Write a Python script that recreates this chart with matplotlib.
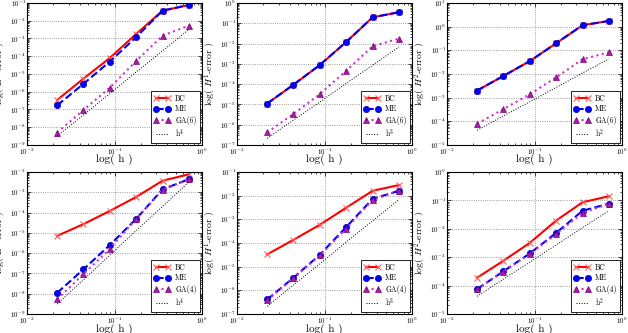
import matplotlib
matplotlib.use('Agg')
import matplotlib.pyplot as plt

plt.rcParams['font.family'] = 'serif'
plt.rcParams['font.serif'] = ['cmr10', 'DejaVu Serif']
plt.rcParams['mathtext.fontset'] = 'cm'
plt.rcParams['axes.formatter.use_mathtext'] = True
plt.rcParams['xtick.direction'] = 'in'
plt.rcParams['ytick.direction'] = 'in'

# mesh sizes
h = [0.0221, 0.0442, 0.0884, 0.177, 0.354, 0.707]

# top row: GA(6)
bc_top = {
    'L2': [3.4e-7, 5.5e-6, 8.0e-5, 1.8e-3, 3.7e-2, 7.7e-2],
    'H1': [1.1e-5, 9.4e-5, 8.8e-4, 1.2e-2, 0.196, 0.35],
    'H2': [2.0e-3, 8.3e-3, 3.5e-2, 0.20, 1.15, 1.74],
}
me_top = {
    'L2': [1.7e-7, 2.8e-6, 5.0e-5, 1.2e-3, 3.7e-2, 7.7e-2],
    'H1': [1.1e-5, 9.4e-5, 8.8e-4, 1.2e-2, 0.196, 0.35],
    'H2': [2.0e-3, 8.3e-3, 3.5e-2, 0.20, 1.15, 1.74],
}
ga_top = {
    'L2': [5.0e-9, 9.4e-8, 1.7e-6, 5.4e-5, 1.45e-3, 5.3e-3],
    'H1': [4.2e-7, 3.4e-6, 3.2e-5, 4.6e-4, 7.3e-3, 1.75e-2],
    'H2': [7.9e-5, 3.3e-4, 1.4e-3, 7.2e-3, 4.2e-2, 8.3e-2],
}

# bottom row: GA(4)
bc_bot = {
    'L2': [7.1e-6, 2.7e-5, 1.2e-4, 5.9e-4, 3.7e-3, 7.7e-3],
    'H1': [3.3e-5, 1.36e-4, 5.9e-4, 3.1e-3, 1.6e-2, 2.8e-2],
    'H2': [1.9e-4, 7.5e-4, 3.2e-3, 1.95e-2, 8.6e-2, 0.14],
}
me_bot = {
    'L2': [1.1e-8, 1.6e-7, 2.5e-6, 4.9e-5, 1.4e-3, 4.4e-3],
    'H1': [4.1e-7, 3.4e-6, 3.2e-5, 4.7e-4, 7.3e-3, 1.6e-2],
    'H2': [7.6e-5, 3.2e-4, 1.35e-3, 7.2e-3, 4.3e-2, 7.7e-2],
}
ga_bot = {
    'L2': [5.3e-9, 9.3e-8, 1.6e-6, 4.9e-5, 1.3e-3, 4.4e-3],
    'H1': [3.9e-7, 3.2e-6, 3.0e-5, 4.0e-4, 6.6e-3, 1.55e-2],
    'H2': [7.4e-5, 3.1e-4, 1.3e-3, 6.5e-3, 3.7e-2, 7.5e-2],
}

# reference slopes h^4, h^3, h^2
ref = {
    'L2': [3.1e-9, 4.9e-8, 7.9e-7, 1.3e-5, 2.0e-4, 3.2e-3],
    'H1': [2.1e-7, 1.7e-6, 1.3e-5, 1.1e-4, 8.5e-4, 6.8e-3],
    'H2': [4.2e-5, 1.7e-4, 6.7e-4, 2.7e-3, 1.1e-2, 4.3e-2],
}
ref_label = {'L2': 'h$^4$', 'H1': 'h$^3$', 'H2': 'h$^2$'}
ylabels = {'L2': 'log( $L^2$-error )', 'H1': 'log( $H^1$-error )',
           'H2': 'log( $H^2$-error )'}
ylims_top = {'L2': (1e-9, 1e-1), 'H1': (1e-7, 1e0), 'H2': (1e-5, 1e1)}
ylims_bot = {'L2': (1e-9, 1e-2), 'H1': (1e-7, 1e-1), 'H2': (1e-5, 1e0)}

norms = ['L2', 'H1', 'H2']
rows = [(bc_top, me_top, ga_top, ylims_top, 'GA(6)', -0.06),
        (bc_bot, me_bot, ga_bot, ylims_bot, 'GA(4)', -0.065)]

fig = plt.figure(figsize=(6.28, 3.33), dpi=100)
fig.patch.set_facecolor('white')

lefts = [27 / 628., 237 / 628., 447 / 628.]
bottoms = [(333 - 145) / 333., (333 - 314) / 333.]
w = 175 / 628.
ht = 142 / 333.

for r, (bc, me, ga, ylims, galab, xly) in enumerate(rows):
    for c, n in enumerate(norms):
        ax = fig.add_axes([lefts[c], bottoms[r], w, ht])
        ax.loglog(h, bc[n], color='red', lw=1.5, marker='x', ms=5,
                  mec='#ff6060', mew=0.8, label='BC')
        ax.loglog(h, me[n], color='blue', ls='--', lw=1.5, marker='o', ms=4.5,
                  mec='#0000aa', mew=0.5, label='ME')
        ax.loglog(h, ga[n], color='#cc33cc', ls=':', lw=1.5, marker='^', ms=4.5,
                  mfc='#a020a0', mec='#800080', mew=0.5, label=galab)
        ax.loglog(h, ref[n], color='black', ls=':', lw=0.7, label=ref_label[n])
        ax.set_xlim(1e-2, 1e0)
        ax.set_ylim(*ylims[n])
        ax.grid(True, which='major', ls=':', color='gray', lw=0.6)
        ax.tick_params(labelsize=5, which='both', top=True, right=True,
                       length=3, width=0.5, pad=1)
        ax.tick_params(which='minor', length=1.5)
        for s in ax.spines.values():
            s.set_linewidth(0.8)
        ax.set_xlabel('log( h )', fontsize=8)
        ax.set_ylabel(ylabels[n], fontsize=7)
        ax.xaxis.set_label_coords(0.5, xly)
        ax.yaxis.set_label_coords(-0.11, 0.5)
        leg = ax.legend(loc='lower right', fontsize=5.5, numpoints=2,
                        fancybox=False, framealpha=1, edgecolor='black',
                        borderpad=0.4, labelspacing=0.3, handlelength=2.2,
                        handletextpad=0.6, borderaxespad=0.3)
        leg.get_frame().set_linewidth(0.6)

fig.savefig('out.png', dpi=100)
